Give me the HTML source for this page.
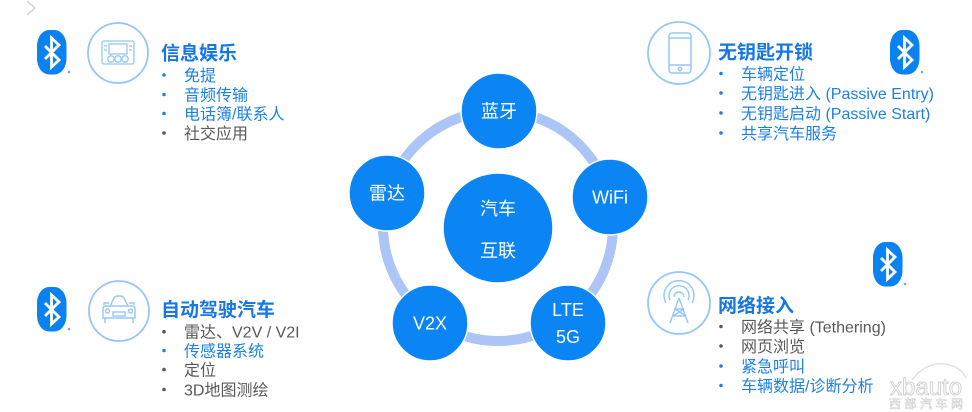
<!DOCTYPE html>
<html><head><meta charset="utf-8">
<style>
html,body{margin:0;padding:0;background:#fff;}
svg{display:block;}
.cj{font-family:"Liberation Sans","Noto Sans CJK SC",sans-serif;}
</style></head>
<body>
<svg width="972" height="412" viewBox="0 0 972 412" xmlns="http://www.w3.org/2000/svg" class="cj">
<defs>
<g id="bt">
  <rect x="0" y="0" width="29.5" height="44.5" rx="12" ry="16" fill="#0a82ef"/>
  <path d="M8,16 L22,30 L14.5,37 L14.5,8 L22,15 L8,29" fill="none" stroke="#fff" stroke-width="2.8" stroke-linejoin="miter"/>
  <circle cx="32" cy="42" r="1.3" fill="#7aa6d8"/>
</g>
</defs>

<!-- top-left chevron -->
<polyline points="27,1 35,8 27,15" fill="none" stroke="#d6d6d6" stroke-width="1.5"/>

<!-- ring -->
<circle cx="498" cy="226" r="115" fill="none" stroke="#adc4f6" stroke-width="10"/>

<!-- nodes -->
<g fill="#0b85f4" stroke="#fff" stroke-width="1.5">
  <circle cx="499" cy="111" r="38"/>
  <circle cx="610" cy="197" r="38"/>
  <circle cx="387" cy="193" r="38"/>
  <circle cx="430" cy="323" r="38"/>
  <circle cx="568" cy="323" r="38"/>
  <circle cx="498" cy="228" r="55"/>
</g>
<g fill="#fff" text-anchor="middle" font-size="18">
  <text x="499" y="117.5">蓝牙</text>
  <text x="387" y="199.5">雷达</text>
  <text x="610" y="203.5">WiFi</text>
  <text x="430" y="329.5">V2X</text>
  <text x="568" y="316">LTE</text>
  <text x="568" y="343">5G</text>
  <text x="498" y="215">汽车</text>
  <text x="498" y="257">互联</text>
</g>

<!-- bluetooth icons -->
<use href="#bt" x="37" y="30"/>
<use href="#bt" x="890" y="30"/>
<use href="#bt" x="37" y="287"/>
<use href="#bt" x="873" y="242"/>

<!-- icon circles -->
<g fill="none" stroke="#95c6fa" stroke-width="1.8">
  <circle cx="118" cy="53" r="30"/>
  <circle cx="679" cy="53" r="31"/>
  <circle cx="119" cy="311" r="30"/>
  <circle cx="679" cy="303" r="31"/>
</g>
<!-- radio icon -->
<g fill="none" stroke="#95c6fa" stroke-width="1.3">
  <rect x="102" y="41" width="32" height="23" rx="2"/>
  <rect x="109" y="44" width="18" height="10"/>
  <circle cx="111" cy="59" r="3.2"/>
  <circle cx="118" cy="59" r="3.2"/>
  <circle cx="125" cy="59" r="3.2"/>
  <line x1="104" y1="46" x2="107" y2="46"/>
  <line x1="104" y1="50" x2="107" y2="50"/>
  <line x1="129" y1="46" x2="132" y2="46"/>
  <line x1="129" y1="50" x2="132" y2="50"/>
</g>
<!-- phone icon -->
<g fill="none" stroke="#95c6fa" stroke-width="1.5">
  <rect x="669" y="33" width="22" height="40" rx="3"/>
  <line x1="669" y1="38" x2="691" y2="38"/>
  <line x1="669" y1="65" x2="691" y2="65"/>
  <circle cx="680" cy="69" r="1.6"/>
</g>
<!-- car icon -->
<g fill="none" stroke="#95c6fa" stroke-width="1.4">
  <path d="M110,306 L114,298 Q115,296 118,296 L120,296 Q123,296 124,298 L128,306"/>
  <path d="M106,306 L132,306 Q135,306 135,309 L135,318 L103,318 L103,309 Q103,306 106,306 Z"/>
  <line x1="105" y1="318" x2="105" y2="323"/>
  <line x1="133" y1="318" x2="133" y2="323"/>
  <rect x="113" y="312" width="12" height="4"/>
  <circle cx="107.5" cy="311" r="2"/>
  <circle cx="130.5" cy="311" r="2"/>
  <path d="M109,303 L104,303 L104,305"/>
  <path d="M129,303 L134,303 L134,305"/>
</g>
<!-- antenna icon -->
<g fill="none" stroke="#95c6fa" stroke-width="1.4">
  <path d="M674,297 A5,5 0 1 1 684,297"/>
  <path d="M670,300 A10,10 0 1 1 688,300"/>
  <path d="M666,303 A15,15 0 1 1 692,303"/>
  <path d="M679,298 L670,323 M679,298 L688,323"/>
  <path d="M675,309 L684,309 M673,316 L686,316 M675,309 L686,316 M684,309 L673,316"/>
</g>

<!-- Top-left text -->
<text x="161" y="59.5" font-size="19" font-weight="bold" fill="#1677e3">信息娱乐</text>
<g font-size="16">
  <circle cx="164" cy="75" r="1.8" fill="#1c80e6"/>
  <text x="184" y="80.8" fill="#1c80e6">免提</text>
  <circle cx="164" cy="94.5" r="1.8" fill="#1c80e6"/>
  <text x="184" y="100.3" fill="#1c80e6">音频传输</text>
  <circle cx="164" cy="113.5" r="1.8" fill="#1c80e6"/>
  <text x="184" y="119.3" fill="#1c80e6">电话簿/联系人</text>
  <circle cx="164" cy="133" r="1.8" fill="#595959"/>
  <text x="184" y="138.8" fill="#595959">社交应用</text>
</g>

<!-- Top-right text -->
<text x="718" y="58.5" font-size="19" font-weight="bold" fill="#1677e3">无钥匙开锁</text>
<g font-size="16" fill="#1c80e6">
  <circle cx="721" cy="73.5" r="1.8"/>
  <text x="741" y="79.3">车辆定位</text>
  <circle cx="721" cy="93" r="1.8"/>
  <text x="741" y="98.8">无钥匙进入 (Passive Entry)</text>
  <circle cx="721" cy="113" r="1.8"/>
  <text x="741" y="118.8">无钥匙启动 (Passive Start)</text>
  <circle cx="721" cy="133" r="1.8"/>
  <text x="741" y="138.8">共享汽车服务</text>
</g>

<!-- Bottom-left text -->
<text x="161" y="316" font-size="19" font-weight="bold" fill="#1677e3">自动驾驶汽车</text>
<g font-size="16">
  <circle cx="164" cy="331.7" r="1.8" fill="#595959"/>
  <text x="184" y="337.5" fill="#595959">雷达、V2V / V2I</text>
  <circle cx="164" cy="350.5" r="1.8" fill="#1c80e6"/>
  <text x="184" y="356.3" fill="#1c80e6">传感器系统</text>
  <circle cx="164" cy="369.5" r="1.8" fill="#595959"/>
  <text x="184" y="375.3" fill="#595959">定位</text>
  <circle cx="164" cy="389.5" r="1.8" fill="#595959"/>
  <text x="184" y="395.3" fill="#595959">3D地图测绘</text>
</g>

<!-- Bottom-right text -->
<text x="718" y="312" font-size="19" font-weight="bold" fill="#1677e3">网络接入</text>
<g font-size="16">
  <circle cx="721" cy="326.5" r="1.8" fill="#595959"/>
  <text x="741" y="332.3" fill="#595959">网络共享 (Tethering)</text>
  <circle cx="721" cy="346" r="1.8" fill="#595959"/>
  <text x="741" y="351.8" fill="#595959">网页浏览</text>
  <circle cx="721" cy="366" r="1.8" fill="#1c80e6"/>
  <text x="741" y="371.8" fill="#1c80e6">紧急呼叫</text>
  <circle cx="721" cy="385.5" r="1.8" fill="#1c80e6"/>
  <text x="741" y="391.3" fill="#1c80e6">车辆数据/诊断分析</text>
</g>

<!-- watermark -->
<path d="M912,380 Q925,362 945,364 Q960,366 966,378" fill="none" stroke="#dcdcdc" stroke-width="1.2"/>
<text x="890" y="395" font-size="24" fill="#fff" stroke="#cfcfcf" stroke-width="0.9" font-family="Liberation Sans, sans-serif">xbauto</text>
<text x="889" y="408" font-size="12" fill="#fff" stroke="#cfcfcf" stroke-width="0.6" letter-spacing="3.5">西部汽车网</text>
</svg>
</body></html>
